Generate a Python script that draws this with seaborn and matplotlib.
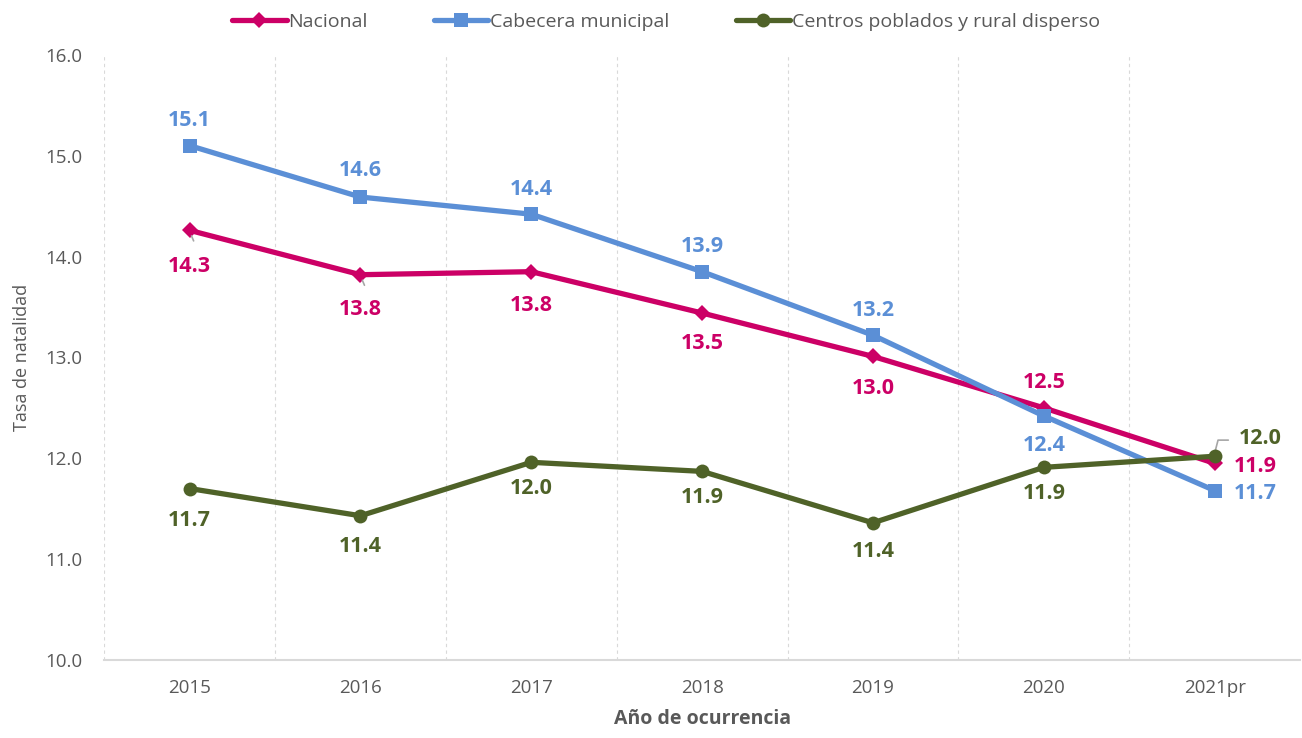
import pandas as pd
import matplotlib.pyplot as plt
import seaborn as sns

years = ["2015", "2016", "2017", "2018", "2019", "2020", "2021pr"]
nacional = [14.26, 13.82, 13.85, 13.44, 13.01, 12.50, 11.95]
cabecera = [15.10, 14.59, 14.42, 13.85, 13.22, 12.42, 11.68]
centros = [11.70, 11.43, 11.96, 11.87, 11.36, 11.91, 12.02]
nacional_lbl = ["14.3", "13.8", "13.8", "13.5", "13.0", "12.5", "11.9"]
cabecera_lbl = ["15.1", "14.6", "14.4", "13.9", "13.2", "12.4", "11.7"]
centros_lbl = ["11.7", "11.4", "12.0", "11.9", "11.4", "11.9", "12.0"]

series = ["Nacional", "Cabecera municipal", "Centros poblados y rural disperso"]
colores = {"Nacional": "#CC0066", "Cabecera municipal": "#5B8FD6",
           "Centros poblados y rural disperso": "#4F6228"}
marcas = {"Nacional": "D", "Cabecera municipal": "s",
          "Centros poblados y rural disperso": "o"}

df = pd.DataFrame({
    "Año": years * 3,
    "Tasa": nacional + cabecera + centros,
    "Serie": [series[0]] * 7 + [series[1]] * 7 + [series[2]] * 7,
})

sns.set_style("white")
plt.rcParams["font.family"] = ["Open Sans", "DejaVu Sans"]

fig = plt.figure(figsize=(13.02, 7.38), dpi=100)
ax = fig.add_axes([0.08, 0.1057, 0.9185, 0.82])

sns.lineplot(data=df, x="Año", y="Tasa", hue="Serie", style="Serie",
             palette=colores, markers=marcas, dashes=False, linewidth=3.8,
             markersize=10, markeredgewidth=0, sort=False, ax=ax)
for ln in ax.lines:
    if ln.get_marker() == "D":
        ln.set_markersize(8)

ax.set_xlim(-0.5, 6.5)
ax.set_ylim(10, 16)
ax.set_yticks([10, 11, 12, 13, 14, 15, 16])
ax.set_yticklabels([f"{v:.1f}" for v in range(10, 17)])
for xv in [-0.5, 0.5, 1.5, 2.5, 3.5, 4.5, 5.5]:
    ax.axvline(xv, color="#d9d9d9", linestyle=(0, (3, 3)), linewidth=0.8, zorder=0)

for s in ["top", "right", "left"]:
    ax.spines[s].set_visible(False)
ax.spines["bottom"].set_color("#d9d9d9")
ax.spines["bottom"].set_linewidth(1.5)
ax.tick_params(axis="both", length=0, labelsize=13.5, colors="#595959")
ax.tick_params(axis="x", pad=14)
ax.tick_params(axis="y", pad=16)
ax.set_ylabel("Tasa de natalidad", fontsize=13, color="#595959", labelpad=10)
ax.set_xlabel("Año de ocurrencia", fontsize=14, color="#595959",
              fontweight="bold", labelpad=8)

kw = dict(textcoords="offset points", ha="center", va="center",
          fontsize=15.5, fontweight="bold")

# Nacional
off_n = [(0, -26), (0, -25), (0, -24), (0, -22), (0, -23), (0, 18), (29, -2)]
for i, (v, t) in enumerate(zip(nacional, nacional_lbl)):
    ax.annotate(t, (i, v), xytext=off_n[i], color=colores[series[0]], **kw)
for i in [0, 1]:
    ax.annotate("", (i + 0.005, nacional[i] - 0.03), xytext=(i + 0.03, nacional[i] - 0.13),
                arrowprops=dict(arrowstyle="-", color="#a6a6a6", lw=1.2))

# Cabecera
off_c = [(0, 18), (0, 19), (0, 18), (0, 18), (0, 18), (0, -21), (29, -2)]
for i, (v, t) in enumerate(zip(cabecera, cabecera_lbl)):
    ax.annotate(t, (i, v), xytext=off_c[i], color=colores[series[1]], **kw)

# Centros
off_r = [(0, -23), (0, -22), (0, -19), (0, -19), (0, -21), (0, -19), (33, 13)]
for i, (v, t) in enumerate(zip(centros, centros_lbl)):
    ax.annotate(t, (i, v), xytext=off_r[i], color=colores[series[2]], **kw)
ax.plot([6.0, 6.02, 6.08], [centros[6] + 0.03, centros[6] + 0.16, centros[6] + 0.16],
        color="#a6a6a6", lw=1.2, zorder=1)

handles, labels = ax.get_legend_handles_labels()
ax.legend(handles, labels, loc="lower center", bbox_to_anchor=(0.47, 1.01),
          ncol=3, frameon=False, fontsize=14, handlelength=2.8,
          columnspacing=3.4, handletextpad=0.1, labelcolor="#595959")

fig.savefig("out.png", dpi=100)
